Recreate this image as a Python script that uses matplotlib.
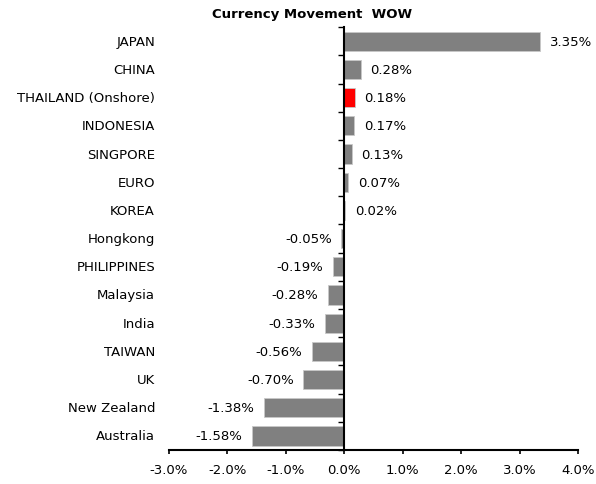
import matplotlib.pyplot as plt
import numpy as np

countries = ['JAPAN', 'CHINA', 'THAILAND (Onshore)', 'INDONESIA', 'SINGPORE', 'EURO',
             'KOREA', 'Hongkong', 'PHILIPPINES', 'Malaysia', 'India', 'TAIWAN', 'UK',
             'New Zealand', 'Australia']
changes = [3.35, 0.28, 0.18, 0.17, 0.13, 0.07, 0.02, -0.05, -0.19, -0.28, -0.33,
           -0.56, -0.70, -1.38, -1.58]
highlight = 'THAILAND (Onshore)'

plt.rcParams['font.family'] = 'DejaVu Sans'

fig = plt.figure(figsize=(5.96, 4.85), dpi=100)
ax = fig.add_axes([0.2836, 0.070, 0.6862, 0.872])

y = np.arange(len(countries))
colors = ['#ff0000' if c == highlight else '#808080' for c in countries]
ax.barh(y, changes, height=0.68, color=colors, edgecolor='#c8c8c8', linewidth=0.6, zorder=2)

for yi, v in zip(y, changes):
    if v >= 0:
        ax.annotate(f'{v:.2f}%', (v, yi), xytext=(7, 0), textcoords='offset points',
                    ha='left', va='center', fontsize=9.5)
    else:
        ax.annotate(f'{v:.2f}%', (v, yi), xytext=(-7, 0), textcoords='offset points',
                    ha='right', va='center', fontsize=9.5)

# category names at the far left
trans = ax.get_yaxis_transform()
for yi, name in zip(y, countries):
    ax.text(-0.034, yi, name, transform=trans, ha='right', va='center', fontsize=9.5)

ax.set_xlim(-3, 4)
ax.set_ylim(len(countries) - 0.5, -0.5)
ax.set_xticks(np.arange(-3, 5))
ax.set_xticklabels([f'{t:.1f}%' for t in np.arange(-3, 5)], fontsize=9.5)

ax.spines['top'].set_visible(False)
ax.spines['right'].set_visible(False)
ax.spines['left'].set_position(('data', 0))
ax.spines['left'].set_linewidth(1.5)
ax.spines['bottom'].set_linewidth(1.5)
ax.set_yticks(np.arange(len(countries) + 1) - 0.5)
ax.set_yticklabels([])
ax.tick_params(axis='y', direction='out', length=4, width=1)
ax.tick_params(axis='x', direction='out', length=3, width=1.2, pad=6)

fig.text(0.524, 0.971, 'Currency Movement  WOW', ha='center', va='center',
         fontsize=9.5, fontweight='bold')

fig.savefig('out.png', dpi=100)
